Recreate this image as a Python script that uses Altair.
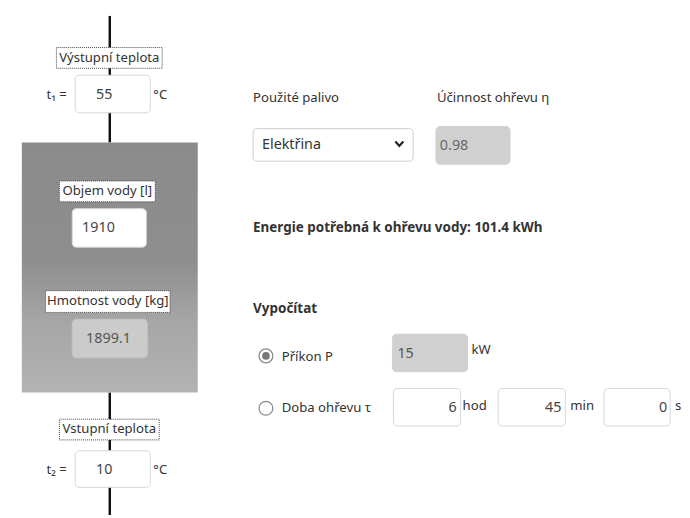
import altair as alt
import pandas as pd

# ---------------- values shown in the form ----------------
t_labels = ["t₁ =", "t₂ ="]
t_values = [55, 10]
tank_labels = ["Výstupní teplota", "Objem vody [l]", "Hmotnost vody [kg]", "Vstupní teplota"]
water_volume = 1910
water_mass = 1899.1
fuel_label = "Použité palivo"
fuel = "Elektřina"
eff_label = "Účinnost ohřevu η"
efficiency = 0.98
energy_kwh = 101.4
calc_label = "Vypočítat"
radio_labels = ["Příkon P", "Doba ohřevu τ"]
power_kw = 15
duration_values = [6, 45, 0]
duration_units = ["hod", "min", "s"]

FONT = "Noto Sans"
TXT = "#333333"

# ---------------- layout (pixel positions of the widgets) ----------------
X0, X1, Y0, Y1 = 8, 690, 10, 520
xs = alt.Scale(domain=[X0, X1], nice=False, zero=False)
ys = alt.Scale(domain=[Y1, Y0], nice=False, zero=False)
ax = None


def X(f):
    return alt.X(f, type="quantitative", scale=xs, axis=ax)


def Y(f):
    return alt.Y(f, type="quantitative", scale=ys, axis=ax)


# pipe
pipe = pd.DataFrame({"x": [111, 111], "y": [15, 396], "y2": [143, 520]})
pipe_layer = alt.Chart(pipe).mark_rule(color="#111111", strokeWidth=2.5).encode(
    x=X("x"), y=Y("y"), y2="y2")

# tank with gradient
tank = pd.DataFrame({"x": [22], "x2": [200], "y": [143], "y2": [396]})
tank_layer = alt.Chart(tank).mark_rect(
    fill=alt.LinearGradient(
        gradient="linear", x1=0, x2=0, y1=0, y2=1,
        stops=[alt.GradientStop(offset=0, color="#8b8b8b"),
               alt.GradientStop(offset=0.47, color="#8e8e8e"),
               alt.GradientStop(offset=0.72, color="#a6a6a6"),
               alt.GradientStop(offset=1, color="#b3b3b3")]),
    stroke=None).encode(x=X("x"), x2="x2", y=Y("y"), y2="y2")

# dotted label boxes
lab = pd.DataFrame({
    "text": tank_labels,
    "x": [57, 60, 46, 60], "x2": [164, 157, 172, 161],
    "y": [47, 182, 293, 423], "y2": [68, 203, 315, 444],
})
lab["cx"] = (lab.x + lab.x2) / 2
lab["cy"] = (lab.y + lab.y2) / 2
lab_box = alt.Chart(lab).mark_rect(fill="white", stroke="#444444", strokeWidth=1,
                                   strokeDash=[1, 1]).encode(
    x=X("x"), x2="x2", y=Y("y"), y2="y2")
lab_txt = alt.Chart(lab).mark_text(font=FONT, fontSize=13.3, color=TXT,
                                   baseline="middle", align="center").encode(
    x=X("cx"), y=Y("cy"), text="text:N")

# input boxes
inp = pd.DataFrame({
    "x": [76, 73, 73, 76, 256, 441, 397, 398, 504, 611],
    "x2": [152, 148, 149, 152, 418, 516, 473, 466, 572, 678],
    "y": [75, 210, 322, 455, 129, 127, 337, 392, 392, 392],
    "y2": [113, 249, 361, 492, 162, 165, 375, 430, 430, 430],
    "fill": ["white", "white", "#cbcbcb", "white", "white", "#d0d0d0", "#d0d0d0",
             "white", "white", "white"],
    "stroke": ["#d6d6d6", "#d6d6d6", "#c4c4c4", "#d6d6d6", "#cfcfcf", "#d0d0d0", "#d0d0d0",
               "#d6d6d6", "#d6d6d6", "#d6d6d6"],
})
inp_layer = alt.Chart(inp).mark_rect(cornerRadius=4, strokeWidth=1).encode(
    x=X("x"), x2="x2", y=Y("y"), y2="y2",
    fill=alt.Fill("fill:N", scale=None), stroke=alt.Stroke("stroke:N", scale=None))

# values inside inputs (left aligned)
vals = pd.DataFrame({
    "text": [str(t_values[0]), str(water_volume), str(water_mass), str(t_values[1]),
             fuel, str(efficiency), str(power_kw)],
    "x": [97, 83, 87, 97, 265, 445, 402],
    "y": [95, 230, 342, 474, 146, 147, 357],
    "color": ["#444444", "#444444", "#555555", "#444444", "#333333", "#666666", "#555555"],
})
vals_layer = alt.Chart(vals).mark_text(font=FONT, fontSize=14.5, align="left",
                                       baseline="middle").encode(
    x=X("x"), y=Y("y"), text="text:N", color=alt.Color("color:N", scale=None))

# right-aligned duration values
dur = pd.DataFrame({"text": [str(v) for v in duration_values],
                    "x": [462, 568, 675], "y": [412, 412, 412]})
dur_layer = alt.Chart(dur).mark_text(font=FONT, fontSize=14.5, align="right",
                                     baseline="middle", color="#444444").encode(
    x=X("x"), y=Y("y"), text="text:N")

# plain labels
plain = pd.DataFrame({
    "text": [t_labels[0], "°C", t_labels[1], "°C", fuel_label, eff_label,
             radio_labels[0], radio_labels[1], "kW"] + duration_units,
    "x": [47, 155, 47, 155, 256, 442, 285, 285, 477, 468, 577, 683],
    "y": [95, 95, 474, 474, 98, 98, 360, 412, 353, 410, 410, 410],
})
plain_layer = alt.Chart(plain).mark_text(font=FONT, fontSize=13.3, align="left",
                                         baseline="middle", color=TXT).encode(
    x=X("x"), y=Y("y"), text="text:N")

# bold labels
bold = pd.DataFrame({
    "text": [f"Energie potřebná k ohřevu vody: {energy_kwh} kWh", calc_label],
    "x": [256, 256], "y": [230, 312],
})
bold_layer = alt.Chart(bold).mark_text(font=FONT, fontSize=13.6, fontWeight="bold",
                                       align="left", baseline="middle", color=TXT).encode(
    x=X("x"), y=Y("y"), text="text:N")

# radio buttons
radio = pd.DataFrame({"x": [269, 269], "y": [359, 412]})
radio_outer = alt.Chart(radio).mark_point(shape="circle", size=196, filled=True,
                                          fill="white", stroke="#8a8a8a",
                                          strokeWidth=1.3, opacity=1).encode(
    x=X("x"), y=Y("y"))
radio_inner = alt.Chart(radio.iloc[:1]).mark_point(shape="circle", size=60, filled=True,
                                                   color="#777777", opacity=1).encode(
    x=X("x"), y=Y("y"))

# select chevron
chev = pd.DataFrame({"x": [400, 404, 408], "y": [142, 146.5, 142], "o": [0, 1, 2]})
chev_layer = alt.Chart(chev).mark_line(color="#222222", strokeWidth=2.2,
                                       strokeJoin="miter").encode(
    x=X("x"), y=Y("y"), order="o:Q")

chart = alt.layer(
    pipe_layer, tank_layer, lab_box, lab_txt, inp_layer, vals_layer, dur_layer,
    plain_layer, bold_layer, radio_outer, radio_inner, chev_layer,
).properties(width=X1 - X0, height=Y1 - Y0, padding=0, background="white",
             autosize=alt.AutoSizeParams(type="none")
).configure_view(stroke=None)

chart.save("out.html", embed_options={"renderer": "svg", "actions": False})
